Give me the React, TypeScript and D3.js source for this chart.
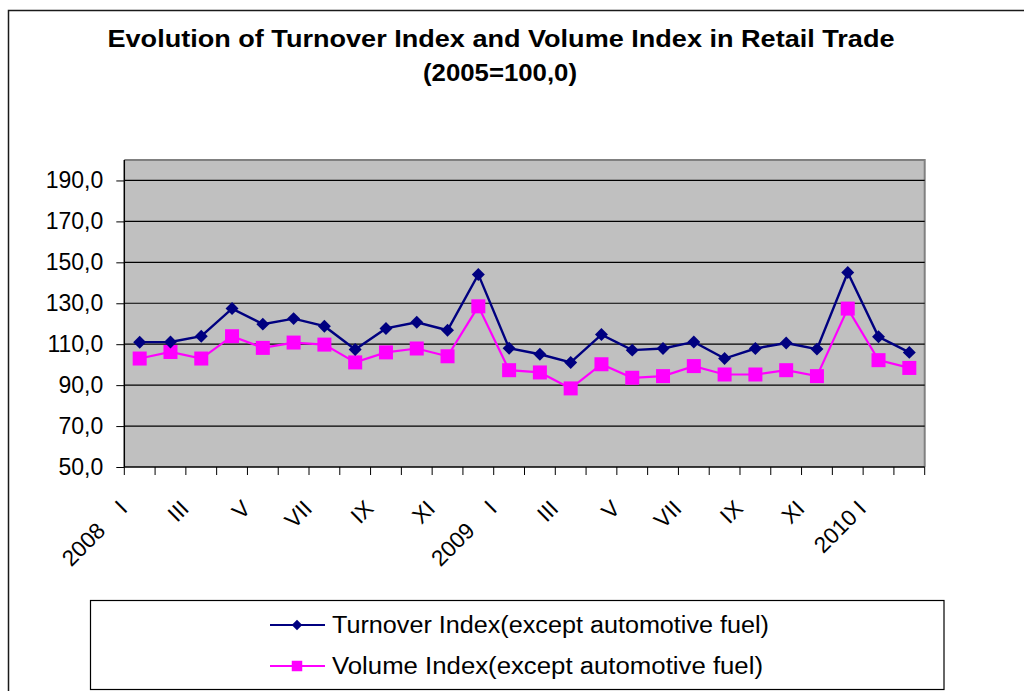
import React, { useEffect, useRef } from 'react';
import * as d3 from 'd3';

// chart data (2005 = 100,0)
const months = [
    '2008-01', '2008-02', '2008-03', '2008-04', '2008-05', '2008-06',
    '2008-07', '2008-08', '2008-09', '2008-10', '2008-11', '2008-12',
    '2009-01', '2009-02', '2009-03', '2009-04', '2009-05', '2009-06',
    '2009-07', '2009-08', '2009-09', '2009-10', '2009-11', '2009-12',
    '2010-01', '2010-02',
];
const monthLabels = [
    '2008\u00A0\u00A0\u00A0\u00A0I', '', 'III', '', 'V', '', 'VII', '', 'IX', '', 'XI', '',
    '2009\u00A0\u00A0\u00A0\u00A0I', '', 'III', '', 'V', '', 'VII', '', 'IX', '', 'XI', '',
    '2010 I', '',
];
const turnoverIndex = [
    111.0, 111.1, 113.9, 127.4, 119.8, 122.5, 118.8, 107.4, 117.7, 120.7, 116.8, 144.1,
    108.0, 105.1, 101.1, 114.7, 107.1, 107.9, 111.1, 103.0, 107.9, 110.6, 107.6, 145.0,
    113.6, 106.0,
];
const volumeIndex = [
    103.0, 106.2, 103.0, 113.9, 108.2, 110.8, 109.8, 101.1, 106.0, 107.9, 104.1, 128.5,
    97.3, 96.2, 88.4, 100.2, 93.6, 94.4, 99.3, 95.2, 95.2, 97.3, 94.4, 127.4,
    102.2, 98.4,
];
const yTicks = [50, 70, 90, 110, 130, 150, 170, 190];
const seriesNames = [
    'Turnover Index(except automotive fuel)',
    'Volume Index(except automotive fuel)',
];

const width = 1024;
const height = 691;
const font = '"Liberation Sans", Arial, sans-serif';

const NAVY = '#000080';
const MAGENTA = '#FF00FF';

export default function App() {
    const svgRef = useRef<SVGSVGElement>(null);

    useEffect(() => {
        const svg = d3.select(svgRef.current);
        svg.selectAll('*').remove();

        const plot = { left: 124.3, right: 924.7, top: 160, bottom: 467 };

        const x = d3.scaleBand<string>().domain(months).range([plot.left, plot.right]);
        const y = d3.scaleLinear().domain([50, 200]).range([plot.bottom, plot.top]);
        const cx = (d: string) => (x(d) as number) + x.bandwidth() / 2;

        // outer chart frame
        svg.append('rect')
            .attr('x', 8.5).attr('y', 10.5)
            .attr('width', width + 50).attr('height', height + 50)
            .attr('fill', '#fff')
            .attr('stroke', '#1a1a1a').attr('stroke-width', 1.5);

        // title
        const title = svg.append('g')
            .attr('font-family', font)
            .attr('font-weight', 'bold')
            .attr('font-size', 23.5)
            .attr('text-anchor', 'middle');
        title.append('text')
            .attr('x', 501).attr('y', 47)
            .attr('textLength', 787).attr('lengthAdjust', 'spacingAndGlyphs')
            .text('Evolution of Turnover Index and Volume Index in Retail Trade');
        title.append('text')
            .attr('x', 500).attr('y', 81)
            .attr('textLength', 154).attr('lengthAdjust', 'spacingAndGlyphs')
            .text('(2005=100,0)');

        // plot area
        svg.append('rect')
            .attr('x', plot.left).attr('y', plot.top)
            .attr('width', plot.right - plot.left).attr('height', plot.bottom - plot.top)
            .attr('fill', '#C0C0C0');
        svg.append('path')
            .attr('d', `M${plot.left},${plot.top}H${plot.right}V${plot.bottom}`)
            .attr('fill', 'none')
            .attr('stroke', '#808080').attr('stroke-width', 2);

        // gridlines
        svg.append('g')
            .selectAll('line')
            .data(yTicks.filter(t => t > 50))
            .join('line')
            .attr('x1', plot.left).attr('x2', plot.right)
            .attr('y1', d => y(d)).attr('y2', d => y(d))
            .attr('stroke', '#000').attr('stroke-width', 1.2);

        // y axis
        const axisY = d3.axisLeft(y)
            .tickValues(yTicks)
            .tickSize(8)
            .tickPadding(13)
            .tickFormat(d => d3.format('.1f')(d as number).replace('.', ','));
        const gy = svg.append('g')
            .attr('transform', `translate(${plot.left},0)`)
            .call(axisY);
        gy.select('.domain').attr('d', `M0,${plot.top}V${plot.bottom}`).attr('stroke-width', 1.5);
        gy.selectAll('text')
            .attr('font-family', font)
            .attr('font-size', 23)
            .attr('fill', '#000');

        // x axis: ticks at category boundaries
        const gx = svg.append('g');
        gx.append('line')
            .attr('x1', plot.left).attr('x2', plot.right)
            .attr('y1', plot.bottom).attr('y2', plot.bottom)
            .attr('stroke', '#000').attr('stroke-width', 1.5);
        gx.selectAll('line.tick')
            .data([...months.map(m => x(m) as number), plot.right])
            .join('line')
            .attr('class', 'tick')
            .attr('x1', d => d).attr('x2', d => d)
            .attr('y1', plot.bottom).attr('y2', plot.bottom + 8)
            .attr('stroke', '#000');
        gx.selectAll('text')
            .data(months.map((m, i) => ({ m, label: monthLabels[i] })).filter(d => d.label))
            .join('text')
            .attr('transform', d => `translate(${cx(d.m) - 11},510) rotate(-45)`)
            .attr('text-anchor', 'end')
            .attr('font-family', font)
            .attr('font-size', 22.5)
            .text(d => d.label);

        // series
        const line = (values: number[]) => d3.line<number>()
            .x((_, i) => cx(months[i]))
            .y(d => y(d))(values);

        svg.append('path')
            .attr('d', line(volumeIndex))
            .attr('fill', 'none')
            .attr('stroke', MAGENTA).attr('stroke-width', 2.2);
        svg.append('g')
            .selectAll('rect')
            .data(volumeIndex)
            .join('rect')
            .attr('x', (_, i) => cx(months[i]) - 7)
            .attr('y', d => y(d) - 7)
            .attr('width', 14).attr('height', 14)
            .attr('fill', MAGENTA);

        svg.append('path')
            .attr('d', line(turnoverIndex))
            .attr('fill', 'none')
            .attr('stroke', NAVY).attr('stroke-width', 2.4);
        const diamond = d3.symbol(d3.symbolSquare, 84)();
        svg.append('g')
            .selectAll('path')
            .data(turnoverIndex)
            .join('path')
            .attr('d', diamond)
            .attr('transform', (d, i) => `translate(${cx(months[i])},${y(d)}) rotate(45)`)
            .attr('fill', NAVY);

        // legend
        const legend = svg.append('g');
        legend.append('rect')
            .attr('x', 90.5).attr('y', 600.5)
            .attr('width', 853.5).attr('height', 89)
            .attr('fill', '#fff')
            .attr('stroke', '#000').attr('stroke-width', 1.2);
        const rows = [
            { name: seriesNames[0], color: NAVY, marker: 'diamond', y: 625, len: 437 },
            { name: seriesNames[1], color: MAGENTA, marker: 'square', y: 666, len: 431 },
        ];
        const row = legend.selectAll('g.row')
            .data(rows)
            .join('g')
            .attr('class', 'row')
            .attr('transform', d => `translate(0,${d.y})`);
        row.append('line')
            .attr('x1', 270).attr('x2', 325)
            .attr('stroke', d => d.color).attr('stroke-width', 1.8);
        row.append('path')
            .attr('d', d => d.marker === 'diamond'
                ? d3.symbol(d3.symbolSquare, 56)()
                : d3.symbol(d3.symbolSquare, 110)())
            .attr('transform', d => `translate(297,0) rotate(${d.marker === 'diamond' ? 45 : 0})`)
            .attr('fill', d => d.color);
        row.append('text')
            .attr('x', 332).attr('y', 0)
            .attr('dy', '0.36em')
            .attr('font-family', font)
            .attr('font-size', 23.5)
            .attr('textLength', d => d.len)
            .attr('lengthAdjust', 'spacingAndGlyphs')
            .text(d => d.name);
    }, []);

    return (
        <svg
            ref={svgRef}
            width={width}
            height={height}
            style={{ position: 'absolute', left: 0, top: 0, background: '#fff' }}
        />
    );
}
